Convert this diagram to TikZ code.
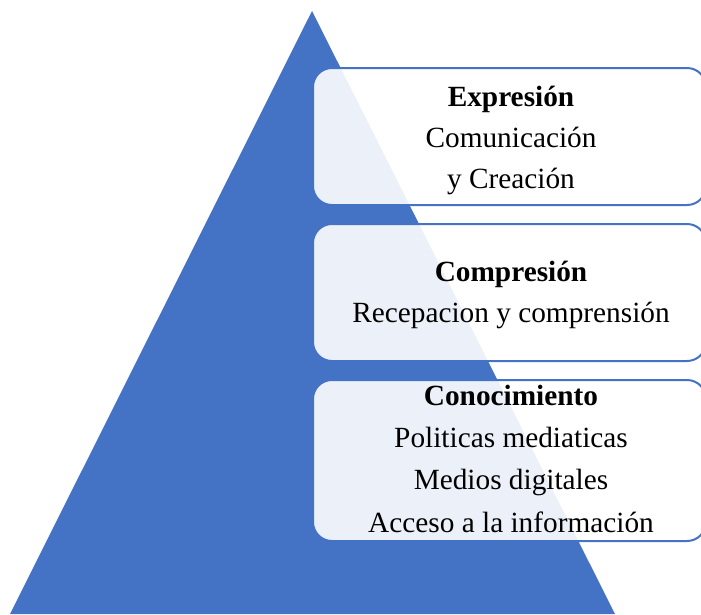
\documentclass[tikz,border=0pt]{standalone}
\usepackage{fontspec}
\setmainfont{Liberation Serif}
\definecolor{pyrblue}{HTML}{4472C4}
\tikzset{
  txt/.style={anchor=base, inner sep=0pt, font=\fontsize{29.3}{36}\selectfont},
  head/.style={txt, font=\fontsize{29.3}{36}\selectfont\bfseries},
  listbox/.style={draw=pyrblue, line width=2pt, fill=white, fill opacity=0.9, rounded corners=19pt}
}
\begin{document}
\begin{tikzpicture}[x=1pt,y=-1pt]
\useasboundingbox (0,0) rectangle (701,614);
\begin{scope}
\clip (0,0) rectangle (701,614);
\fill[pyrblue] (312,11) -- (615,614) -- (10,614) -- cycle;
\draw[listbox] (313,68) rectangle (706,205);
\draw[listbox] (313,224) rectangle (706,361);
\draw[listbox] (313,380) rectangle (706,541);
\end{scope}
\node[head] (t1) at (511,106) {Expresión};
\node[txt] (t1a) at (511,147) {Comunicación};
\node[txt] (t1b) at (511,188) {y Creación};
\node[head] (t2) at (511,281) {Compresión};
\node[txt] (t2a) at (511,322) {Recepacion y comprensión};
\node[head] (t3) at (511,405) {Conocimiento};
\node[txt] (t3a) at (511,447) {Politicas mediaticas};
\node[txt] (t3b) at (511,489) {Medios digitales};
\node[txt] (t3c) at (511,532) {Acceso a la información};
\end{tikzpicture}
\end{document}
